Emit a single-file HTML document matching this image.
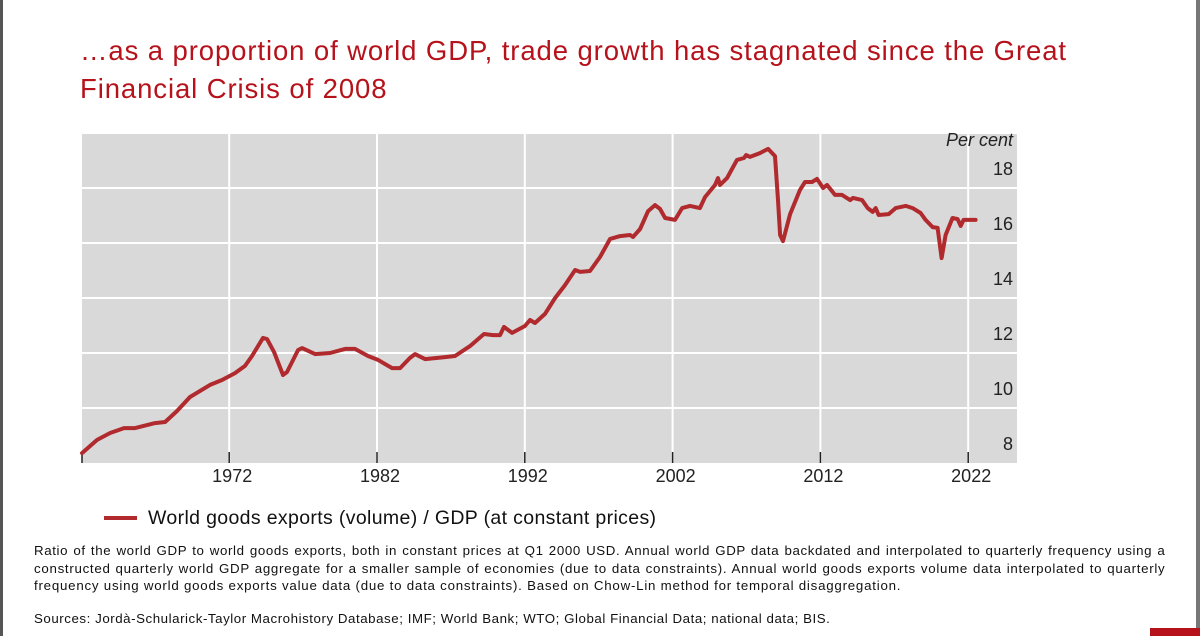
<!DOCTYPE html>
<html><head><meta charset="utf-8"><style>
body{margin:0;width:1200px;height:636px;background:#fff;position:relative;overflow:hidden;font-family:"Liberation Sans",sans-serif}
.t{position:absolute;left:80px;top:32px;color:#b5121b;font-size:27.5px;line-height:38px;letter-spacing:0.9px;white-space:nowrap}
.note{position:absolute;left:34px;top:542px;font-size:13.3px;line-height:17.5px;color:#111;white-space:nowrap}
.note span{display:block}
.src{position:absolute;left:34px;top:611px;font-size:13.3px;color:#111;letter-spacing:0.55px;white-space:nowrap}
</style></head><body>
<div style="position:absolute;left:0;top:0;width:3px;height:636px;background:#555"></div>
<div style="position:absolute;left:1196px;top:0;width:4px;height:636px;background:#777"></div>
<div style="position:absolute;left:1150px;top:628px;width:50px;height:8px;background:#b5121b"></div>
<div class="t">…as a proportion of world GDP, trade growth has stagnated since the Great<br>Financial Crisis of 2008</div>
<svg id="chart" width="1200" height="636" style="position:absolute;left:0;top:0"></svg>
<div class="note"><span style="word-spacing:0.9px;letter-spacing:0.62px">Ratio of the world GDP to world goods exports, both in constant prices at Q1 2000 USD. Annual world GDP data backdated and interpolated to quarterly frequency using a</span><span style="word-spacing:0.6px;letter-spacing:0.71px">constructed quarterly world GDP aggregate for a smaller sample of economies (due to data constraints). Annual world goods exports volume data interpolated to quarterly</span><span style="letter-spacing:0.77px">frequency using world goods exports value data (due to data constraints). Based on Chow-Lin method for temporal disaggregation.</span></div>
<div class="src">Sources: Jordà-Schularick-Taylor Macrohistory Database; IMF; World Bank; WTO; Global Financial Data; national data; BIS.</div>
<script>
const years=[1962.04,1963.06,1963.94,1964.88,1965.63,1966.98,1967.66,1968.47,1969.35,1970.70,1971.51,1972.39,1973.07,1973.54,1974.29,1974.56,1975.03,1975.64,1975.91,1976.66,1976.93,1977.81,1978.82,1979.84,1980.51,1981.39,1982.07,1983.02,1983.56,1984.23,1984.57,1985.25,1986.60,1987.28,1988.29,1989.24,1989.85,1990.32,1990.59,1991.14,1992.01,1992.35,1992.69,1993.37,1994.05,1994.72,1995.40,1995.74,1996.41,1997.09,1997.77,1998.44,1999.12,1999.32,1999.80,2000.34,2000.81,2001.15,2001.49,2002.16,2002.64,2003.18,2003.85,2004.19,2004.87,2005.07,2005.21,2005.68,2006.36,2006.83,2006.97,2007.24,2007.91,2008.46,2008.93,2009.13,2009.27,2009.47,2009.95,2010.62,2010.96,2011.43,2011.77,2012.18,2012.45,2012.99,2013.46,2014.01,2014.21,2014.82,2015.20,2015.54,2015.74,2015.94,2016.62,2017.09,2017.77,2018.24,2018.78,2019.12,2019.59,2019.93,2020.20,2020.47,2020.94,2021.28,2021.49,2021.69,2022.50];
const values=[8.36,8.84,9.09,9.27,9.27,9.45,9.49,9.89,10.40,10.84,11.02,11.27,11.53,11.89,12.55,12.51,12.04,11.20,11.31,12.11,12.18,11.96,12.00,12.15,12.15,11.89,11.75,11.45,11.45,11.82,11.96,11.78,11.85,11.89,12.25,12.69,12.65,12.65,12.95,12.73,12.98,13.20,13.09,13.42,14.00,14.47,15.02,14.95,14.98,15.49,16.15,16.25,16.29,16.22,16.51,17.16,17.38,17.24,16.91,16.84,17.27,17.35,17.27,17.67,18.11,18.36,18.11,18.36,19.02,19.09,19.20,19.13,19.27,19.42,19.16,17.56,16.29,16.07,17.05,17.93,18.22,18.22,18.33,18.00,18.11,17.75,17.75,17.56,17.64,17.56,17.27,17.13,17.27,17.02,17.05,17.27,17.35,17.27,17.09,16.84,16.58,16.55,15.45,16.29,16.91,16.87,16.62,16.84,16.84];
const yTicks=[8,10,12,14,16,18];
const xTicks=[1972,1982,1992,2002,2012,2022];
const NS='http://www.w3.org/2000/svg';
const svg=document.getElementById('chart');
const L=82,R=1017,T=134,B=463;
const x=v=>81.4+(v-1962)*14.78;
const y=v=>463-(v-8)*27.5;
function mk(t,a,p){const e=document.createElementNS(NS,t);for(const k in a)e.setAttribute(k,a[k]);(p||svg).appendChild(e);return e;}
const bg=mk('rect',{x:L,y:T,width:R-L,height:B-T,fill:'#d9d9d9'});


yTicks.forEach(v=>{
 if(v>8){const g=mk('line',{x1:L,x2:R,y1:y(v),y2:y(v),stroke:'#fff','stroke-width':2});
 
 }
 const t=mk('text',{x:1013,y:y(v)-13,'text-anchor':'end','font-size':18,fill:'#222','font-family':'Liberation Sans, sans-serif'});
 t.textContent=v;
 
 
});
xTicks.forEach(v=>{
 const g=mk('line',{x1:x(v),x2:x(v),y1:T,y2:B,stroke:'#fff','stroke-width':2});
 
 
 const tk=mk('line',{x1:x(v),x2:x(v),y1:B-11,y2:B,stroke:'#222','stroke-width':1.5});
 
 
 const t=mk('text',{x:x(v)+3,y:482,'text-anchor':'middle','font-size':18,fill:'#222','font-family':'Liberation Sans, sans-serif'});
 t.textContent=v;
 
 
});
const t0=mk('line',{x1:L,x2:L,y1:B-11,y2:B,stroke:'#222','stroke-width':1.5});


const pc=mk('text',{x:1013,y:146,'text-anchor':'end','font-size':18,'font-style':'italic',fill:'#222','font-family':'Liberation Sans, sans-serif'});
pc.textContent='Per cent';


const d=years.map((yr,i)=>(i?'L':'M')+x(yr).toFixed(1)+','+y(values[i]).toFixed(1)).join('');
const ln=mk('path',{d:d,fill:'none',stroke:'#b02a2e','stroke-width':4,'stroke-linejoin':'round','stroke-linecap':'round'});


const lg=mk('line',{x1:104,x2:137,y1:518,y2:518,stroke:'#b02a2e','stroke-width':4});


const lt=mk('text',{x:148,y:524,'font-size':19.5,'letter-spacing':0.35,fill:'#111','font-family':'Liberation Sans, sans-serif'});
lt.textContent='World goods exports (volume) / GDP (at constant prices)';


</script>
</body></html>
